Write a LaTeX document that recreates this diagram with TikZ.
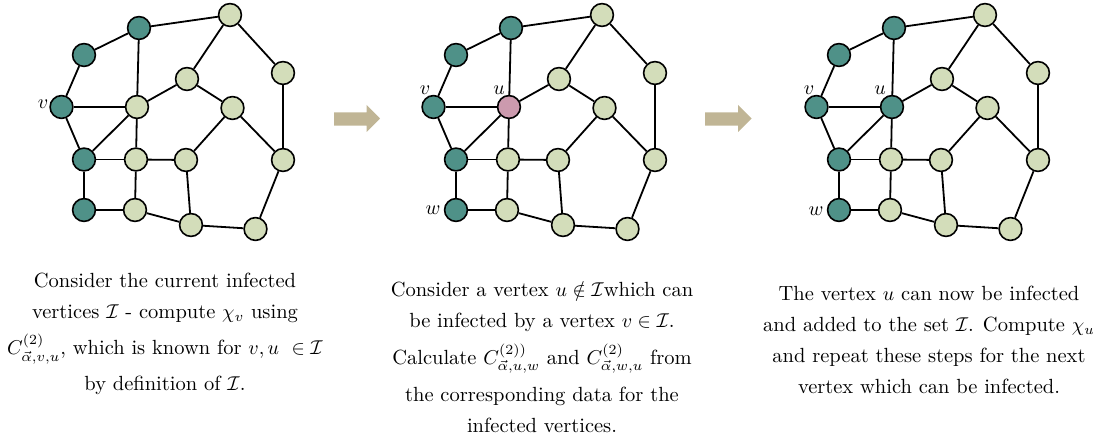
\documentclass[tikz,border=0pt]{standalone}
\usepackage{amsmath,amssymb}
\definecolor{tealv}{HTML}{4F9188}
\definecolor{lgreen}{HTML}{D3DDBA}
\definecolor{pinkv}{HTML}{CC9AAE}
\definecolor{arrowc}{HTML}{C0B595}
\newcommand\mygraph[3]{%
\begin{scope}[shift={(#2,0)}]
 \node[inf] (#1A) at (139,28) {};
 \node[inf] (#1B) at (84,55) {};
 \node[inf] (#1v) at (61.5,107) {};
 \node[#3] (#1u) at (137,107) {};
 \node[inf] (#1D) at (84,159.5) {};
 \node[inf] (#1w) at (84,210) {};
 \node[sus] (#1G) at (136,159.5) {};
 \node[sus] (#1H) at (135,210) {};
 \node[sus] (#1I) at (230,15) {};
 \node[sus] (#1J) at (187,79) {};
 \node[sus] (#1K) at (232.5,108) {};
 \node[sus] (#1L) at (186,160) {};
 \node[sus] (#1M) at (283,73) {};
 \node[sus] (#1N) at (283,160) {};
 \node[sus] (#1O) at (191,225) {};
 \node[sus] (#1P) at (255.5,229) {};
 \draw[edge] (#1A) -- (#1I);
 \draw[edge] (#1A) -- (#1B);
 \draw[edge] (#1A) -- (#1u);
 \draw[edge] (#1B) -- (#1v);
 \draw[edge] (#1v) -- (#1u);
 \draw[edge] (#1v) -- (#1D);
 \draw[edge] (#1D) -- (#1u);
 \draw[edge] (#1D) -- (#1G);
 \draw[edge] (#1D) -- (#1w);
 \draw[edge] (#1u) -- (#1G);
 \draw[edge] (#1u) -- (#1J);
 \draw[edge] (#1G) -- (#1L);
 \draw[edge] (#1G) -- (#1H);
 \draw[edge] (#1w) -- (#1H);
 \draw[edge] (#1H) -- (#1O);
 \draw[edge] (#1I) -- (#1J);
 \draw[edge] (#1I) -- (#1M);
 \draw[edge] (#1J) -- (#1K);
 \draw[edge] (#1K) -- (#1L);
 \draw[edge] (#1K) -- (#1N);
 \draw[edge] (#1M) -- (#1N);
 \draw[edge] (#1L) -- (#1O);
 \draw[edge] (#1O) -- (#1P);
 \draw[edge] (#1N) -- (#1P);
\end{scope}}
\begin{document}
\begin{tikzpicture}[x=0.5pt,y=-0.5pt,
  vtx/.style={circle,draw=black,line width=0.8pt,minimum size=11.4pt,inner sep=0pt},
  inf/.style={vtx,fill=tealv},
  sus/.style={vtx,fill=lgreen},
  cand/.style={vtx,fill=pinkv},
  edge/.style={line width=0.9pt},
  lbl/.style={inner sep=0pt,font=\fontsize{10.25}{12}\selectfont},
  txt/.style={align=center,inner sep=0pt,anchor=north,font=\fontsize{10.25}{15.5}\selectfont},
  bigarrow/.style={fill=arrowc,draw=none}]
\useasboundingbox (0,0) rectangle (1099,437);
% graphs
\mygraph{a}{0}{sus}
\mygraph{b}{372}{cand}
\mygraph{c}{755}{inf}
% labels
\node[lbl] (la) at (43,104) {$v$};
\node[lbl] (lbv) at (425,90) {$v$};
\node[lbl] (lbu) at (499,90) {$u$};
\node[lbl] (lbw) at (433,210) {$w$};
\node[lbl] (lcv) at (809,90) {$v$};
\node[lbl] (lcu) at (880,90) {$u$};
\node[lbl] (lcw) at (816,211) {$w$};
% arrows
\fill[bigarrow] (334,112.3) -- (366.7,112.3) -- (366.7,105) -- (380,118.5) -- (366.7,132) -- (366.7,125.7) -- (334,125.7) -- cycle;
\fill[bigarrow] (705,112.3) -- (738,112.3) -- (738,105) -- (751.7,118.5) -- (738,132) -- (738,125.7) -- (705,125.7) -- cycle;
% texts
\node[txt] (t1) at (165,273) {Consider the current infected\\
vertices $\mathcal{I}$ - compute $\chi_v$ using\\[2.5pt]
$C^{(2)}_{\vec{\alpha},v,u}$, which is known for $v,u\ \in\mathcal{I}$\\[2.5pt]
by definition of $\mathcal{I}$.};
\node[txt] (t2) at (542,281) {Consider a vertex $u\notin\mathcal{I}$which can\\
be infected by a vertex $v\in\mathcal{I}$.\\[3pt]
Calculate $C^{(2))}_{\vec{\alpha},u,w}$ and $C^{(2)}_{\vec{\alpha},w,u}$ from\\[3pt]
the corresponding data for the\\
infected vertices.};
\node[txt] (t3) at (929,286) {The vertex $u$ can now be infected\\
and added to the set $\mathcal{I}$. Compute $\chi_u$\\
and repeat these steps for the next\\
vertex which can be infected.};
\end{tikzpicture}
\end{document}
